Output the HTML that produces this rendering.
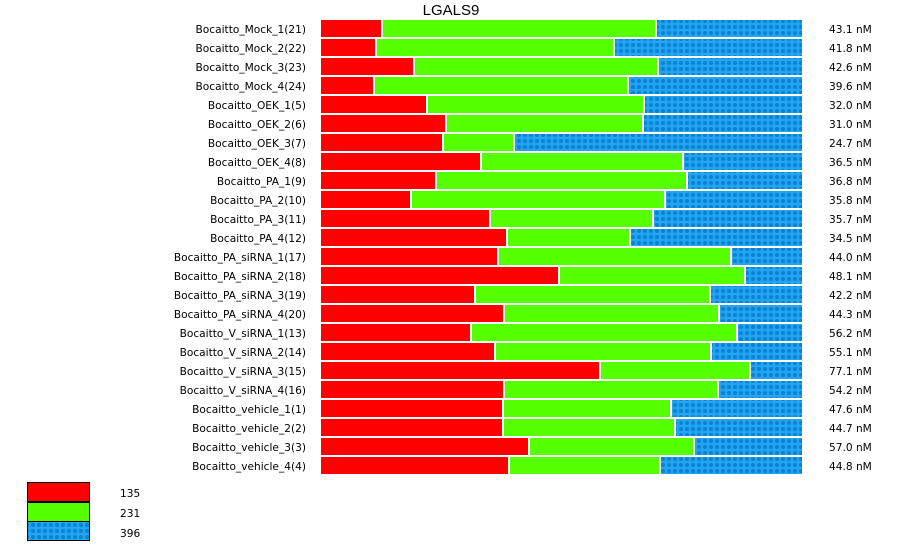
<!DOCTYPE html>
<html><head><style>body{margin:0;background:#fff}</style></head><body>
<svg width="900" height="546" xmlns="http://www.w3.org/2000/svg" font-family="'DejaVu Sans','Liberation Sans',sans-serif" font-size="10.6">
<defs><pattern id="b" width="6" height="6" patternUnits="userSpaceOnUse"><rect width="6" height="6" fill="#22a4f0"/><circle cx="3" cy="3" r="2" fill="#0a82d2"/></pattern></defs>
<text x="451" y="15" font-size="15" text-anchor="middle" font-family="'Liberation Sans',sans-serif">LGALS9</text>
<g id="rows"></g>
<rect x="27.5" y="482.5" width="62" height="19" fill="#f00" stroke="#000"/>
<rect x="27.5" y="502.5" width="62" height="19" fill="#55ff00" stroke="#000"/>
<rect x="27.5" y="521.5" width="62" height="19" fill="url(#b)" stroke="#000"/>
<text x="120" y="497">135</text><text x="120" y="517">231</text><text x="120" y="537">396</text>
</svg>
<script>
var d=[["Bocaitto_Mock_1(21)",381,655,"43.1"],["Bocaitto_Mock_2(22)",375,613,"41.8"],["Bocaitto_Mock_3(23)",413,657,"42.6"],["Bocaitto_Mock_4(24)",373,627,"39.6"],["Bocaitto_OEK_1(5)",426,643,"32.0"],["Bocaitto_OEK_2(6)",445,642,"31.0"],["Bocaitto_OEK_3(7)",442,513,"24.7"],["Bocaitto_OEK_4(8)",480,682,"36.5"],["Bocaitto_PA_1(9)",435,686,"36.8"],["Bocaitto_PA_2(10)",410,664,"35.8"],["Bocaitto_PA_3(11)",489,652,"35.7"],["Bocaitto_PA_4(12)",506,629,"34.5"],["Bocaitto_PA_siRNA_1(17)",497,730,"44.0"],["Bocaitto_PA_siRNA_2(18)",558,744,"48.1"],["Bocaitto_PA_siRNA_3(19)",474,709,"42.2"],["Bocaitto_PA_siRNA_4(20)",503,718,"44.3"],["Bocaitto_V_siRNA_1(13)",470,736,"56.2"],["Bocaitto_V_siRNA_2(14)",494,710,"55.1"],["Bocaitto_V_siRNA_3(15)",599,749,"77.1"],["Bocaitto_V_siRNA_4(16)",503,717,"54.2"],["Bocaitto_vehicle_1(1)",502,670,"47.6"],["Bocaitto_vehicle_2(2)",502,674,"44.7"],["Bocaitto_vehicle_3(3)",528,693,"57.0"],["Bocaitto_vehicle_4(4)",508,659,"44.8"]];
var s="";d.forEach(function(r,i){var y=20+i*19;
s+='<rect x="321" y="'+y+'" width="'+(r[1]-321)+'" height="17" fill="#f00"/>';
s+='<rect x="'+(r[1]+2)+'" y="'+y+'" width="'+(r[2]-r[1]-2)+'" height="17" fill="#55ff00"/>';
s+='<rect x="'+(r[2]+2)+'" y="'+y+'" width="'+(802-r[2]-2)+'" height="17" fill="url(#b)"/>';
s+='<text x="306" y="'+(y+13)+'" text-anchor="end">'+r[0]+'</text>';
s+='<text x="829" y="'+(y+13)+'">'+r[3]+' nM</text>';});
document.getElementById("rows").innerHTML=s;
</script>
</body></html>
